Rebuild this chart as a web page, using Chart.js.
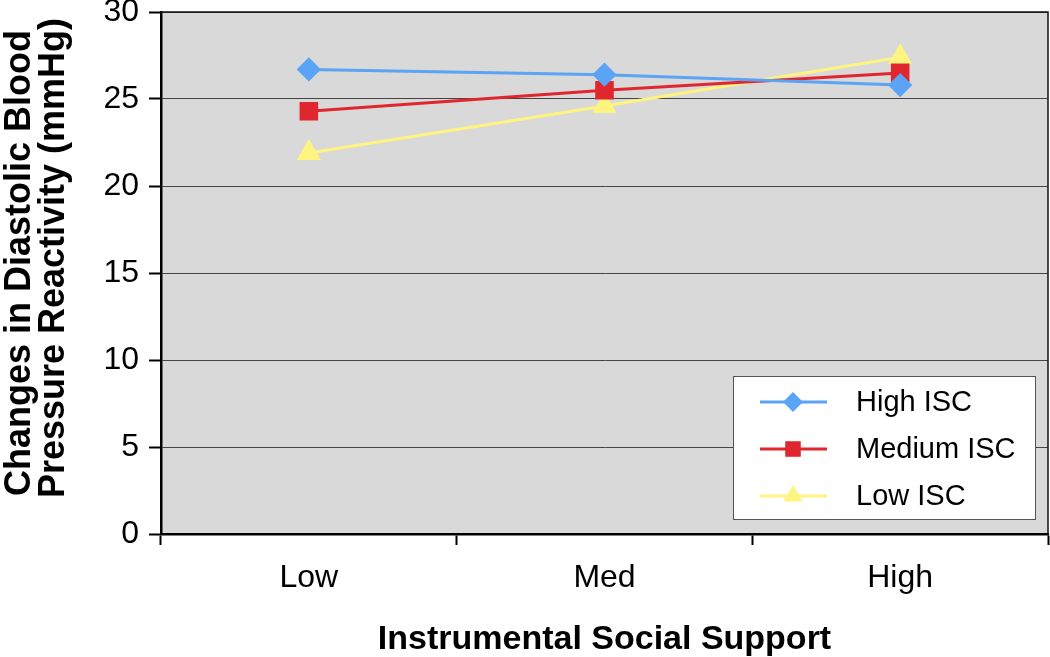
<!DOCTYPE html>
<html>
<head>
<meta charset="utf-8">
<script src="https://cdn.jsdelivr.net/npm/chart.js@4/dist/chart.umd.min.js"></script>
<style>
  html, body { margin: 0; padding: 0; background: #fff; }
  #wrap { width: 1050px; height: 657px; }
</style>
</head>
<body>
<div id="wrap"><canvas id="chart" width="1050" height="657"></canvas></div>
<script>
const categories = ["Low", "Med", "High"];
const highISC = [26.7, 26.4, 25.8];
const mediumISC = [24.3, 25.5, 26.5];
const lowISC = [21.9, 24.6, 27.4];
const yTicks = [0, 5, 10, 15, 20, 25, 30];

const FONT = "'Liberation Sans', Arial, Helvetica, sans-serif";

// grey plot area and thin frame on top/right
const plotArea = {
  id: 'plotArea',
  beforeDraw(chart) {
    const a = chart.chartArea, ctx = chart.ctx;
    ctx.save();
    ctx.fillStyle = '#d9d9d9';
    ctx.fillRect(a.left, a.top, a.right - a.left, a.bottom - a.top);
    ctx.restore();
  },
  afterDraw(chart) {
    const a = chart.chartArea, ctx = chart.ctx;
    ctx.save();
    ctx.strokeStyle = '#111';
    ctx.lineWidth = 1.5;
    ctx.beginPath();
    ctx.moveTo(a.left, a.top);
    ctx.lineTo(a.right, a.top);
    ctx.lineTo(a.right, a.bottom);
    ctx.stroke();
    ctx.restore();
  }
};

// boxed legend inside lower right of the plot
const boxLegend = {
  id: 'boxLegend',
  afterDraw(chart) {
    const ctx = chart.ctx;
    const x = 733, y = 376, w = 302, h = 143;
    ctx.save();
    ctx.fillStyle = '#fff';
    ctx.fillRect(x, y, w, h);
    ctx.strokeStyle = '#555';
    ctx.lineWidth = 1;
    ctx.strokeRect(x + 0.5, y + 0.5, w, h);
    chart.data.datasets.forEach((ds, i) => {
      const cy = y + 26 + i * 47;
      ctx.strokeStyle = ds.borderColor;
      ctx.lineWidth = 3;
      ctx.beginPath();
      ctx.moveTo(760, cy);
      ctx.lineTo(827, cy);
      ctx.stroke();
      ctx.fillStyle = ds.backgroundColor;
      Chart.helpers.drawPoint(ctx, {
        pointStyle: ds.pointStyle,
        radius: ds.pointRadius,
        borderWidth: 0,
        rotation: 0
      }, 793, cy);
      ctx.fillStyle = '#000';
      ctx.font = '29px ' + FONT;
      ctx.textBaseline = 'middle';
      ctx.fillText(ds.label, 856, cy + 1);
    });
    ctx.restore();
  }
};

new Chart(document.getElementById('chart'), {
  type: 'line',
  data: {
    labels: categories,
    datasets: [
      {
        label: 'High ISC', data: highISC,
        borderColor: '#5ba3f5', backgroundColor: '#5ba3f5',
        pointStyle: 'rectRot', pointRadius: 10, borderWidth: 3
      },
      {
        label: 'Medium ISC', data: mediumISC,
        borderColor: '#e0262f', backgroundColor: '#e0262f',
        pointStyle: 'rect', pointRadius: 11, borderWidth: 3
      },
      {
        label: 'Low ISC', data: lowISC,
        borderColor: '#fff47f', backgroundColor: '#fff47f',
        pointStyle: 'triangle', pointRadius: 11, borderWidth: 3
      }
    ]
  },
  options: {
    responsive: false,
    animation: false,
    devicePixelRatio: 1,
    layout: { autoPadding: false, padding: { top: 12, right: 2, left: 0, bottom: 0 } },
    elements: { point: { borderWidth: 0, hoverRadius: 10 }, line: { tension: 0 } },
    plugins: {
      legend: { display: false },
      tooltip: { enabled: false }
    },
    scales: {
      x: {
        offset: true,
        grid: {
          offset: true,
          drawOnChartArea: false,
          drawTicks: true,
          tickLength: 11,
          tickColor: '#000',
          tickWidth: 2
        },
        border: { color: '#000', width: 2.5 },
        ticks: { color: '#000', font: { family: FONT, size: 32 }, padding: 14 },
        title: {
          display: true,
          text: 'Instrumental Social Support',
          color: '#000',
          font: { family: FONT, size: 34, weight: 'bold' },
          padding: { top: 10, bottom: -3 }
        },
        afterFit(scale) {
          scale.height = 123;
          scale.paddingLeft = 0;
          scale.paddingRight = 0;
        }
      },
      y: {
        min: 0,
        max: 30,
        afterBuildTicks(scale) { scale.ticks = yTicks.map(v => ({ value: v })); },
        grid: {
          color: '#444',
          lineWidth: 1,
          drawTicks: true,
          tickLength: 12,
          tickColor: '#000',
          tickWidth: 2
        },
        border: { color: '#000', width: 2.5 },
        ticks: { color: '#000', font: { family: FONT, size: 32 }, padding: 10 },
        title: {
          display: true,
          text: ['  Changes in Diastolic Blood', '   Pressure Reactivity (mmHg)'],
          color: '#000',
          font: { family: FONT, size: 36, weight: 'bold', lineHeight: 0.95 },
          padding: { top: 3, bottom: 0 }
        },
        afterFit(scale) {
          scale.width = 161;
          scale.paddingTop = 0;
          scale.paddingBottom = 0;
        }
      }
    }
  },
  plugins: [plotArea, boxLegend]
});
</script>
</body>
</html>
